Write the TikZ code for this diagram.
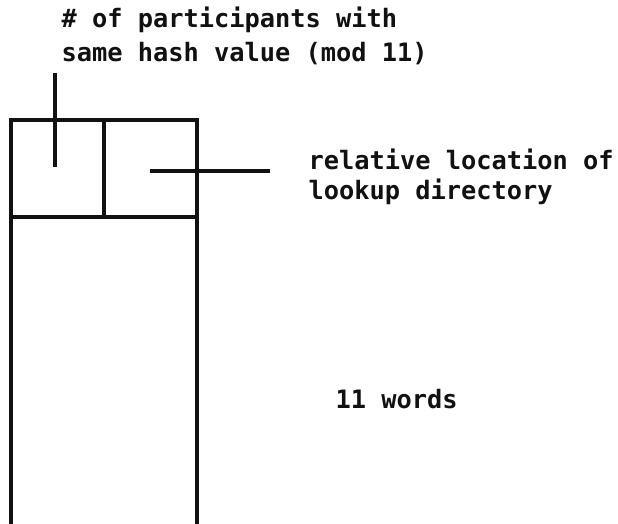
\documentclass[tikz,border=0pt]{standalone}
\usepackage{fontspec}
\setmainfont{DejaVu Sans Mono}
\usepackage{tikz}
\usetikzlibrary{positioning}
\tikzset{every picture/.append style={font=\fontsize{19}{25.5}\selectfont\bfseries}}
\definecolor{figink}{HTML}{111111}

\begin{document}
\begin{tikzpicture}[x=0.75pt,y=-0.75pt,figink,line width=2.5pt]
    \useasboundingbox (0,0) rectangle (618,524);
    % record: header word split in two, then the 11 words below
    \draw (11,524) -- (11,120) -- (197,120) -- (197,524);
    \draw (11,217) -- (197,217);
    \draw (104,120) -- (104,217);
    \node[anchor=base west,inner sep=0,align=left] (hashlbl) at (60,62) {\# of participants with\\same hash value (mod 11)};
    \node[anchor=base west,inner sep=0,align=left,font=\fontsize{19}{22.5}\selectfont\bfseries] (loclbl) at (307,200) {relative location of\\lookup directory};
    \node[anchor=base west,inner sep=0] (words) at (334,408) {11 words};
    \coordinate (cnttop) at (55,73);
    \coordinate (cntend) at (55,167);
    \coordinate (locstart) at (150,171);
    \coordinate (locend) at (270,171);
    \draw (cnttop) -- (cntend);
    \draw (locstart) -- (locend);
\end{tikzpicture}
\end{document}
